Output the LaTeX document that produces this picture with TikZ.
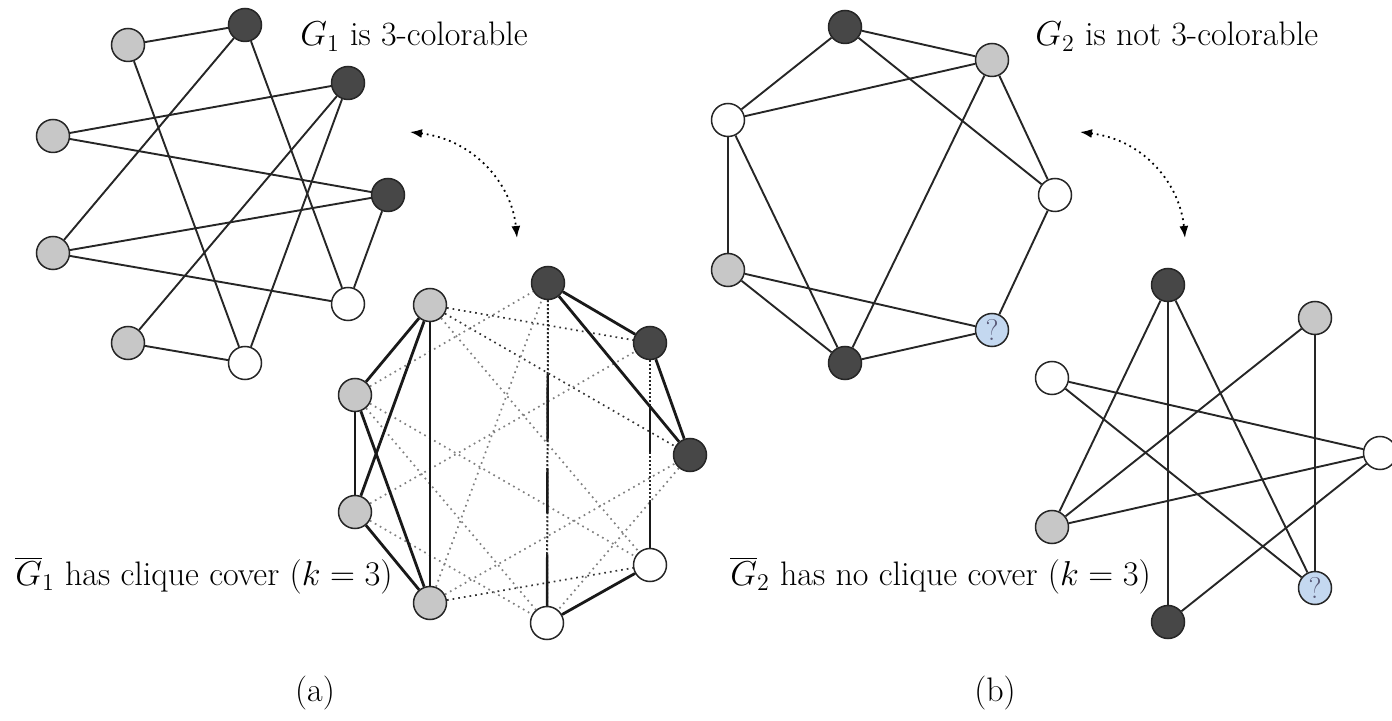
\documentclass[tikz,border=0pt]{standalone}
\usetikzlibrary{arrows.meta}
\definecolor{qblue}{RGB}{196,216,240}
\definecolor{qtext}{RGB}{90,90,120}
\begin{document}
\begin{tikzpicture}[x=0.5pt,y=-0.5pt, font=\fontsize{17}{20}\selectfont,
  v/.style={circle, draw=black!85, line width=0.75pt, minimum size=16.5pt, inner sep=0pt},
  dk/.style={v, fill=black!72},
  lt/.style={v, fill=black!22},
  wh/.style={v, fill=white},
  qu/.style={v, fill=qblue, text=qtext, font=\fontsize{15}{18}\selectfont},
  ed/.style={line width=0.95pt, black!85},
  ce/.style={line width=1.4pt, black!90},
  de/.style={dotted, line width=0.85pt, black!50},
  dde/.style={dotted, line width=0.85pt, black!80},
  vd/.style={densely dotted, line width=1pt, black!85},
  lbl/.style={inner sep=0pt, anchor=base west},
  dblarrow/.style={dotted, line width=0.9pt, {Latex[length=6pt,width=4.5pt]}-{Latex[length=6pt,width=4.5pt]}}
]
\useasboundingbox (0,0) rectangle (1392,721);

% ---------- G1 ----------
\node[lt] (A) at (128,45) {};
\node[dk] (B) at (245,25) {};
\node[dk] (C) at (348,83) {};
\node[lt] (D) at (53,136) {};
\node[dk] (E) at (388,195) {};
\node[lt] (F) at (53,253) {};
\node[wh] (G) at (348,304) {};
\node[lt] (H) at (128,343) {};
\node[wh] (I) at (245,363) {};
\draw[ed] (A) -- (B);
\draw[ed] (A) -- (I);
\draw[ed] (B) -- (F);
\draw[ed] (B) -- (G);
\draw[ed] (D) -- (C);
\draw[ed] (D) -- (E);
\draw[ed] (C) -- (H);
\draw[ed] (C) -- (I);
\draw[ed] (F) -- (E);
\draw[ed] (F) -- (G);
\draw[ed] (E) -- (G);
\draw[ed] (H) -- (I);

% ---------- complement of G1 ----------
\node[lt] (P1) at (430,305) {};
\node[dk] (P2) at (548,283) {};
\node[dk] (P3) at (650,343) {};
\node[dk] (P4) at (690,455) {};
\node[wh] (P5) at (650,565) {};
\node[wh] (P6) at (547,623) {};
\node[lt] (P7) at (430,603) {};
\node[lt] (P8) at (355,512) {};
\node[lt] (P9) at (355,395) {};
% cross edges (dotted)
\draw[dde] (P1) -- (P3);
\draw[dde] (P1) -- (P4);
\draw[de] (P1) -- (P5);
\draw[de] (P9) -- (P2);
\draw[de] (P9) -- (P5);
\draw[de] (P9) -- (P6);
\draw[de] (P7) -- (P2);
\draw[de] (P7) -- (P4);
\draw[dde] (P7) -- (P5);
\draw[de] (P8) -- (P3);
\draw[de] (P8) -- (P6);
\draw[de] (P4) -- (P6);
\draw[vd] (P2) -- (P6);
\draw[ce, line width=1.2pt, dash pattern=on 0pt off 37pt on 33.5pt off 13.5pt on 22.5pt off 20.5pt on 30pt] (P2) -- (P6);
\draw[vd] (P3) -- (P5);
\draw[ce, line width=1.2pt, dash pattern=on 0pt off 23.5pt on 23.5pt off 24pt on 30pt] (P3) -- (P5);
% cliques
\draw[ce] (P1) -- (P9);
\draw[ce] (P1) -- (P8);
\draw[ce] (P1) -- (P7);
\draw[ce] (P9) -- (P8);
\draw[ce] (P9) -- (P7);
\draw[ce] (P8) -- (P7);
\draw[ce] (P2) -- (P3);
\draw[ce] (P2) -- (P4);
\draw[ce] (P3) -- (P4);
\draw[ce] (P5) -- (P6);

% ---------- G2 ----------
\node[dk] (Q1) at (845,27) {};
\node[lt] (Q2) at (992,60) {};
\node[wh] (Q3) at (728,120) {};
\node[wh] (Q4) at (1055,195) {};
\node[lt] (Q5) at (728,270) {};
\node[qu] (Q6) at (992,330) {?};
\node[dk] (Q7) at (845,363) {};
\draw[ed] (Q1) -- (Q2);
\draw[ed] (Q1) -- (Q3);
\draw[ed] (Q1) -- (Q4);
\draw[ed] (Q3) -- (Q2);
\draw[ed] (Q3) -- (Q5);
\draw[ed] (Q3) -- (Q7);
\draw[ed] (Q2) -- (Q7);
\draw[ed] (Q2) -- (Q4);
\draw[ed] (Q4) -- (Q6);
\draw[ed] (Q5) -- (Q6);
\draw[ed] (Q5) -- (Q7);
\draw[ed] (Q7) -- (Q6);

% ---------- complement of G2 ----------
\node[dk] (R1) at (1168,285) {};
\node[lt] (R2) at (1315,318) {};
\node[wh] (R3) at (1052,378) {};
\node[wh] (R4) at (1380,453) {};
\node[lt] (R5) at (1052,527) {};
\node[qu] (R6) at (1315,588) {?};
\node[dk] (R7) at (1168,622) {};
\draw[ed] (R1) -- (R7);
\draw[ed] (R1) -- (R5);
\draw[ed] (R1) -- (R6);
\draw[ed] (R2) -- (R5);
\draw[ed] (R2) -- (R6);
\draw[ed] (R3) -- (R4);
\draw[ed] (R3) -- (R6);
\draw[ed] (R5) -- (R4);
\draw[ed] (R4) -- (R7);

% ---------- arrows ----------
\coordinate (a1s) at (410,132);
\coordinate (a1e) at (517,238);
\coordinate (a2s) at (1080,132);
\coordinate (a2e) at (1185,238);
\draw[dblarrow] (a1s) .. controls (475,140) and (512,185) .. (a1e);
\draw[dblarrow] (a2s) .. controls (1145,140) and (1180,185) .. (a2e);

% ---------- labels ----------
\node[lbl] (t1) at (300,46) {$G_1$ is 3-colorable};
\node[lbl] (t2) at (1035,46) {$G_2$ is not 3-colorable};
\node[lbl] (t3) at (15,585) {$\overline{G}_1$ has clique cover $(k=3)$};
\node[lbl] (t4) at (730,585) {$\overline{G}_2$ has no clique cover $(k=3)$};
\node[inner sep=0pt] (ta) at (315,693) {(a)};
\node[inner sep=0pt] (tb) at (995,693) {(b)};
\end{tikzpicture}
\end{document}
